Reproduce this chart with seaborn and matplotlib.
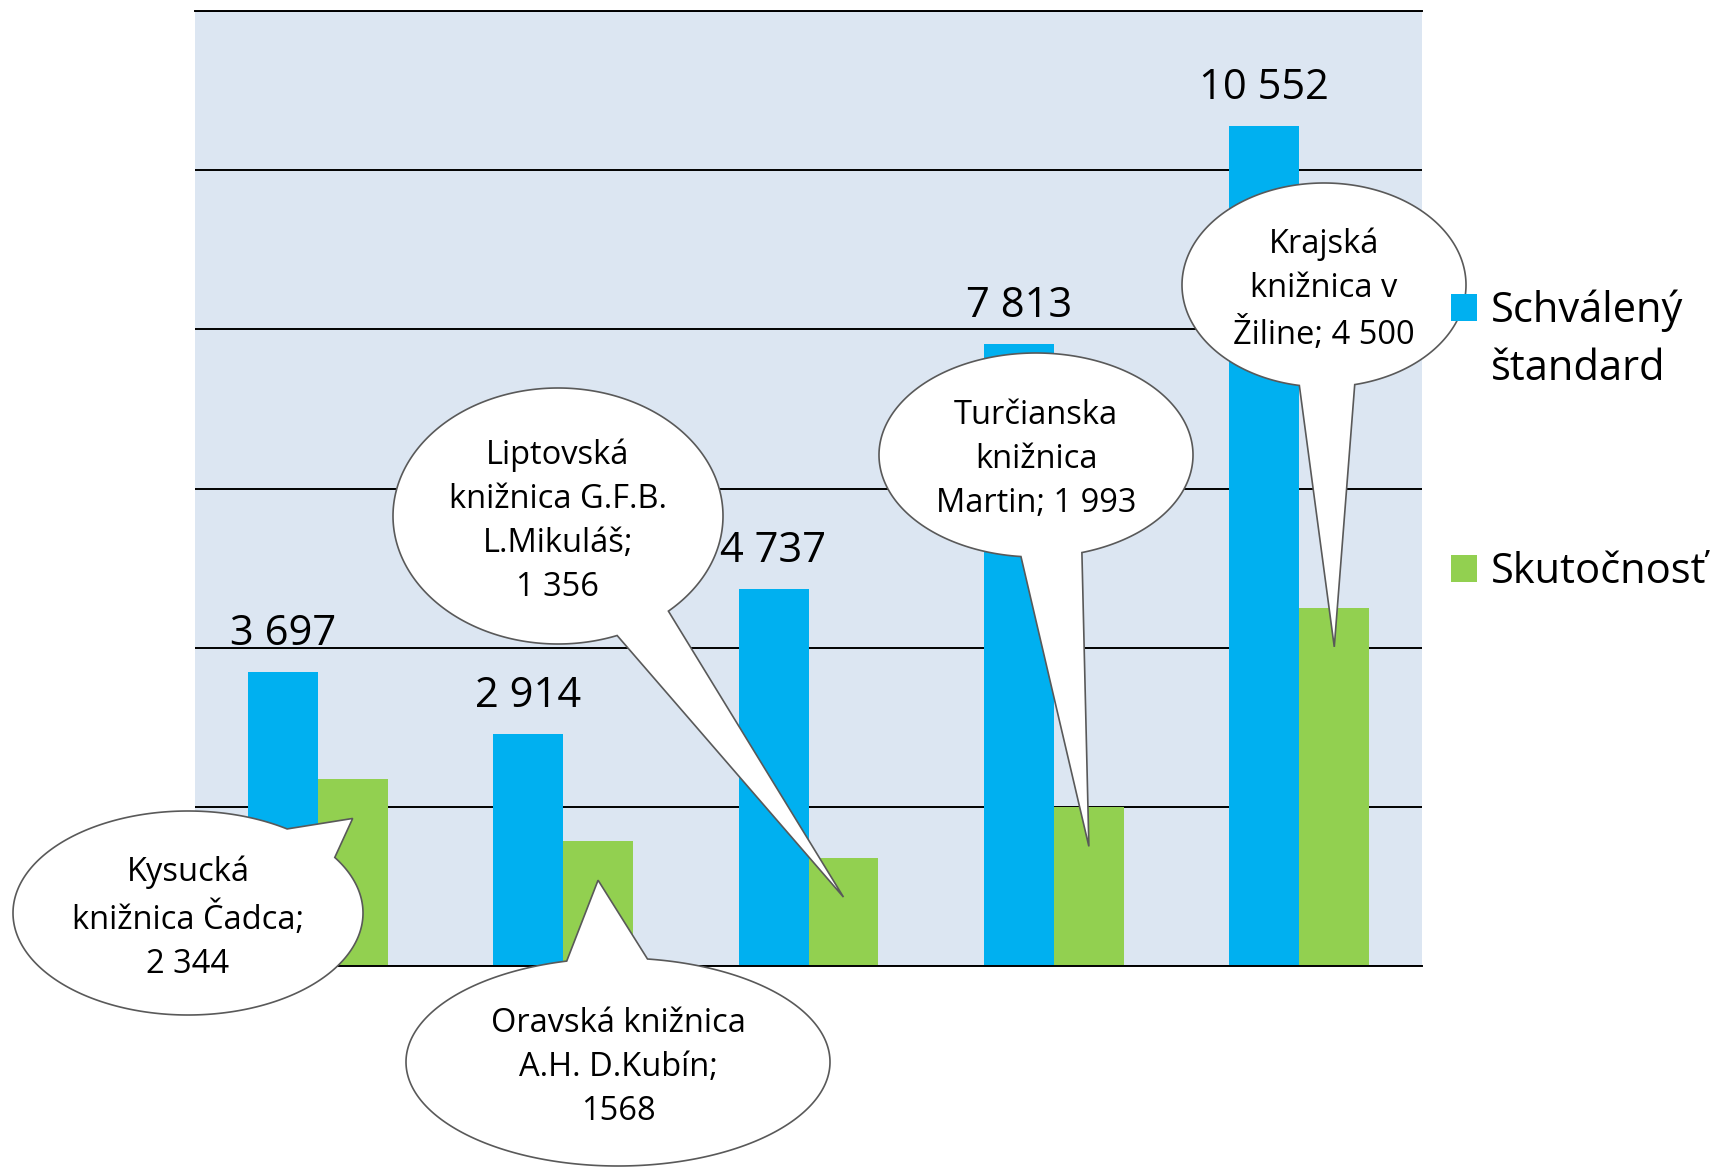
import numpy as np
import pandas as pd
import matplotlib
matplotlib.use("Agg")
import matplotlib.pyplot as plt
import seaborn as sns
from matplotlib.patches import Polygon, Rectangle

# ---------------- data ----------------
libraries = [
    "Kysucká knižnica Čadca",
    "Oravská knižnica A.H. D.Kubín",
    "Liptovská knižnica G.F.B. L.Mikuláš",
    "Turčianska knižnica Martin",
    "Krajská knižnica v Žiline",
]
series_names = ["Schválený štandard", "Skutočnosť"]
standard = [3697, 2914, 4737, 7813, 10552]
actual = [2344, 1568, 1356, 1993, 4500]
standard_labels = ["3 697", "2 914", "4 737", "7 813", "10 552"]
callout_texts = [
    "Kysucká\nknižnica Čadca;\n2 344",
    "Oravská knižnica\nA.H. D.Kubín;\n1568",
    "Liptovská\nknižnica G.F.B.\nL.Mikuláš;\n1 356",
    "Turčianska\nknižnica\nMartin; 1 993",
    "Krajská\nknižnica v\nŽiline; 4 500",
]
legend_labels = ["Schválený\nštandard", "Skutočnosť"]
colors = ["#00B0F0", "#92D050"]

# ---------------- layout (pixels, top-left origin) ----------------
W, H = 1713, 1171
# bubble: centre x, centre y, semi-axis a, semi-axis b, gap angles (deg)
bubbles = [
    (188, 913, 175, 102, (33.0, 55.5)),
    (618, 1062, 212, 104, (82.0, 104.0)),
    (558, 516, 165, 128, (-69.0, -48.0)),
    (1036, 455, 157, 102, (-95.5, -73.0)),
    (1324, 285, 142, 102, (-100.0, -77.5)),
]
tip_drop_px = 39
text_shift_px = 5

df = pd.DataFrame({
    "library": libraries * 2,
    "series": [series_names[0]] * 5 + [series_names[1]] * 5,
    "value": standard + actual,
})

sns.set_style("white")
plt.rcParams["font.family"] = ["Open Sans", "DejaVu Sans"]

fig = plt.figure(figsize=(W / 100, H / 100), dpi=100)
ax = fig.add_axes([195 / W, 1 - 966 / H, 1227 / W, 955 / H])
ax.set_facecolor("#DCE6F2")

sns.barplot(data=df, x="library", y="value", hue="series", palette=colors,
            width=0.57, saturation=1, linewidth=0, ax=ax, legend=False)

ax.set_ylim(0, 12000)
ax.set_xlim(-0.5, 4.5)
ax.set_yticks(np.arange(0, 12001, 2000))
ax.set_axisbelow(True)
ax.yaxis.grid(True, color="black", linewidth=1.4)
ax.set_xticks([])
ax.set_yticklabels([])
ax.tick_params(left=False, bottom=False)
ax.set_xlabel("")
ax.set_ylabel("")
for s in ["left", "right"]:
    ax.spines[s].set_visible(False)
for s in ["top", "bottom"]:
    ax.spines[s].set_color("black")
    ax.spines[s].set_linewidth(1.4)

blue_bars = ax.containers[0]
green_bars = ax.containers[1]

for bar, lab in zip(blue_bars, standard_labels):
    ax.annotate(lab, (bar.get_x() + bar.get_width() / 2, bar.get_height()),
                xytext=(0, 38), textcoords="offset pixels",
                ha="center", va="center", fontsize=30, color="black")

# ---------------- callouts ----------------
for bar, txt, (cx, cy, a, b, (g1, g2)) in zip(green_bars, callout_texts, bubbles):
    tx, ty = ax.transData.transform((bar.get_x() + bar.get_width() / 2, bar.get_height()))
    ty -= tip_drop_px
    cyu = H - cy
    t = np.radians(np.linspace(g2, g1 + 360, 400))
    xs = cx + a * np.cos(t)
    ys = cyu + b * np.sin(t)
    pts = np.column_stack([np.append(xs, tx), np.append(ys, ty)])
    pts[:, 0] /= W
    pts[:, 1] /= H
    poly = Polygon(pts, closed=True, transform=fig.transFigure,
                   facecolor="white", edgecolor="#595959", linewidth=1.2,
                   zorder=5)
    fig.add_artist(poly)
    fig.text(cx / W, 1 - (cy + text_shift_px) / H, txt, ha="center", va="center",
             multialignment="center", fontsize=23.5, linespacing=1.44,
             color="black", zorder=6)

# ---------------- legend ----------------
legend_rows = [(1451, 294, 1491, 290), (1451, 555, 1491, 551)]
for (sx, sy, lx, ly), col, lab in zip(legend_rows, colors, legend_labels):
    fig.add_artist(Rectangle((sx / W, 1 - (sy + 27) / H), 26 / W, 27 / H,
                             transform=fig.transFigure, facecolor=col,
                             edgecolor="none", zorder=7))
    fig.text(lx / W, 1 - ly / H, lab, ha="left", va="top",
             fontsize=30, linespacing=1.5, color="black", zorder=7)

fig.savefig("out.png", dpi=100, facecolor="white")
